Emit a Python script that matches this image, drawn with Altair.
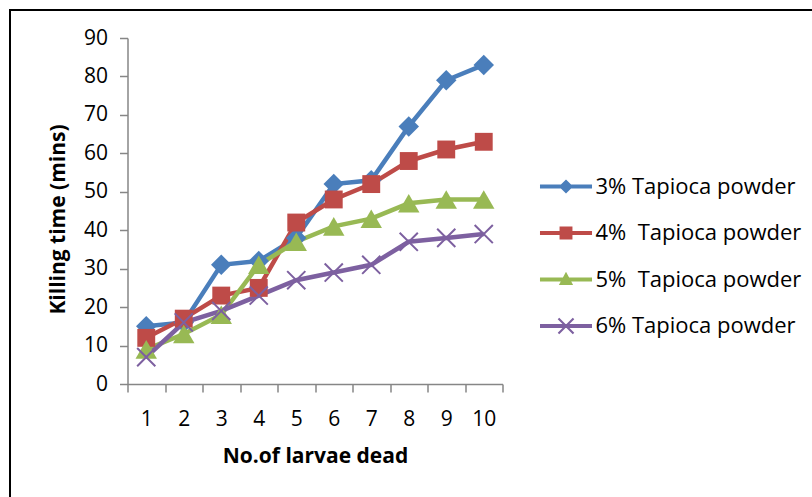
import altair as alt
import pandas as pd

larvae = [1, 2, 3, 4, 5, 6, 7, 8, 9, 10]
series_names = ["3% Tapioca powder", "4%\u00a0 Tapioca powder", "5%\u00a0 Tapioca powder", "6% Tapioca powder"]
s3 = [15, 16, 31, 32, 38, 52, 53, 67, 79, 83]
s4 = [12, 17, 23, 25, 42, 48, 52, 58, 61, 63]
s5 = [9, 13, 18, 31, 37, 41, 43, 47, 48, 48]
s6 = [7, 16, 19, 23, 27, 29, 31, 37, 38, 39]
colors = ["#4A7EBB", "#BE4B48", "#98B954", "#7D60A0"]
y_ticks = [0, 10, 20, 30, 40, 50, 60, 70, 80, 90]

rows = []
for name, vals in zip(series_names, [s3, s4, s5, s6]):
    for x, v in zip(larvae, vals):
        rows.append({"x": x, "series": name, "value": v})
df = pd.DataFrame(rows)

FONT = "Open Sans"
W, H = 375, 346

xenc = alt.X("x:O", sort=larvae,
             scale=alt.Scale(paddingInner=0, paddingOuter=0),
             axis=alt.Axis(title="No.of larvae dead", labelAngle=0, tickBand="extent",
                           tickSize=8, labelPadding=16, titlePadding=16))
yenc = alt.Y("value:Q", scale=alt.Scale(domain=[0, 90], nice=False, zero=True),
             axis=alt.Axis(title="Killing time (mins)", values=y_ticks, tickSize=8,
                           labelPadding=12, titleX=-69, titleY=181,
                           titleAlign="center", titleBaseline="middle"))
color_scale = alt.Scale(domain=series_names, range=colors)

leg = alt.Legend(orient="none", legendX=417, legendY=127,
                 padding=0, symbolSize=1849, symbolStrokeWidth=0,
                 rowPadding=13.5, labelOffset=8,
                 labelFont=FONT, labelFontSize=22,
                 labelColor="#000000", labelLimit=400)

base = alt.Chart(df)

lines = base.mark_line(strokeWidth=4.5).encode(
    x=xenc, y=yenc,
    color=alt.Color("series:N", scale=color_scale, title=None, legend=leg),
)

marker_shapes = ["diamond", "square", "triangle-up", "M-1,-1L1,1M-1,1L1,-1"]
marker_sizes = [420, 320, 460, 330]
point_layers = []
for i, name in enumerate(series_names):
    if i < 3:
        m = base.mark_point(shape=marker_shapes[i], filled=True, size=marker_sizes[i],
                            color=colors[i], opacity=1)
    else:
        m = base.mark_point(shape=marker_shapes[i], filled=False, size=marker_sizes[i],
                            color=colors[i], strokeWidth=2, opacity=1)
    point_layers.append(
        m.encode(x=xenc, y=yenc).transform_filter(alt.datum.series == name)
    )

# legend symbols: line segment + marker
leg_paths = [
    "M-1.21,-0.093L1.21,-0.093L1.21,0.093L-1.21,0.093Z M0,-0.33L0.33,0L0,0.33L-0.33,0Z",
    "M-1.21,-0.093L1.21,-0.093L1.21,0.093L-1.21,0.093Z M-0.3,-0.3L0.3,-0.3L0.3,0.3L-0.3,0.3Z",
    "M-1.21,-0.093L1.21,-0.093L1.21,0.093L-1.21,0.093Z M0,-0.36L0.33,0.25L-0.33,0.25Z",
    "M-1.21,-0.093L1.21,-0.093L1.21,0.093L-1.21,0.093Z "
    "M-0.385,-0.315L-0.315,-0.385L0.385,0.315L0.315,0.385Z "
    "M0.315,-0.385L0.385,-0.315L-0.315,0.385L-0.385,0.315Z",
]
legend_layer = base.mark_point(filled=True, opacity=1, size=1849).encode(
    x=xenc, y=yenc,
    color=alt.Color("series:N", scale=color_scale, title=None, legend=leg),
    shape=alt.Shape("series:N", scale=alt.Scale(domain=series_names, range=leg_paths),
                    title=None, legend=leg),
).transform_filter(alt.datum.value < 0)

frame = alt.Chart(alt.Data(values=[{}])).mark_rect(
    fill="white", fillOpacity=0, stroke="#000000", strokeWidth=2
).encode(
    x=alt.value(-117.5), x2=alt.value(720),
    y=alt.value(-28), y2=alt.value(500),
)

chart = alt.layer(frame, lines, *point_layers, legend_layer).properties(
    width=W, height=H,
    background="white",
    autosize=alt.AutoSizeParams(type="none"),
    padding={"left": 127.5, "top": 38, "right": 812 - 127.5 - W, "bottom": 497 - 38 - H},
).configure_view(stroke=None).configure_axis(
    domainColor="#868686", domainWidth=1.5, tickColor="#868686", tickWidth=1.5,
    grid=False, labelFont=FONT, labelFontSize=21, labelColor="#000000",
    titleFont=FONT, titleFontSize=21, titleFontWeight="bold", titleColor="#000000",
)

chart.save("out.html", embed_options={"renderer": "svg", "actions": False})
